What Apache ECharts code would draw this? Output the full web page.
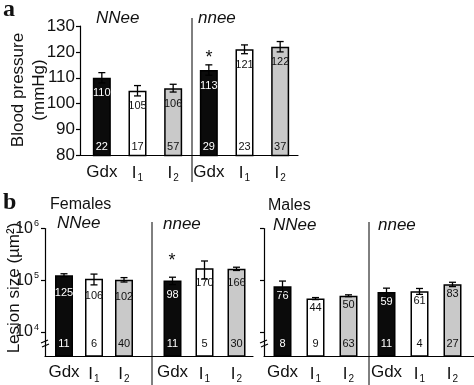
<!DOCTYPE html>
<html><head><meta charset="utf-8">
<script src="https://cdn.jsdelivr.net/npm/echarts@6/dist/echarts.min.js"></script>
<style>html,body{margin:0;padding:0;background:#fff}#c{width:474px;height:385px}</style>
</head><body><div id="c"></div>
<script>
// ---- data ----
const cats = ['Gdx', 'I1', 'I2'];
const bpCats = ['Gdx', 'I1', 'I2', 'Gdx', 'I1', 'I2'];
const bpMean = [110, 105, 106, 113, 121, 122];
const bpErr = [2, 2, 1.5, 2, 1.7, 2];
const bpN = [22, 17, 57, 29, 23, 37];
const bpMin = 80, bpMax = 130, bpStep = 10;

// lesion size, in thousands of µm²
const femNNee = [125, 106, 102], femNNeeErr = [8, 25, 10], femNNeeN = [11, 6, 40];
const femnnee = [98, 170, 166], femnneeErr = [16, 65, 12], femnneeN = [11, 5, 30];
const maleNNee = [76, 44, 50], maleNNeeErr = [20, 2, 2], maleNNeeN = [8, 9, 63];
const malennee = [59, 61, 83], malennneeErr = [11, 8, 8], malennneeN = [11, 4, 27];
const lesionTicks = [1e4, 1e5, 1e6];
const lesionMin = 3400, lesionMax = 1e6;

const fillCols = ['#0b0b0b', '#ffffff', '#c9c9c9'];
const txtCols = ['#ffffff', '#111111', '#111111'];
const FONT = 'Liberation Sans, Arial, Helvetica, sans-serif';

// ---- helpers ----
function catLabel(v) {
  return v === 'Gdx' ? '{m|Gdx}' : '{m|I}{s|' + v.slice(1) + '}';
}
const catRich = {
  m: { fontSize: 17, fontFamily: FONT, color: '#111' },
  s: { fontSize: 10, fontFamily: FONT, color: '#111', padding: [10, 0, 0, 1] }
};

function barData(vals, scale) {
  return vals.map((v, i) => {
    const k = i % 3;
    return {
      value: v * scale,
      itemStyle: { color: fillCols[k], borderColor: '#000', borderWidth: 1.5 },
      label: { color: txtCols[k] }
    };
  });
}

function errRender(params, api) {
  const i = api.value(0), v = api.value(1), e = api.value(2);
  const top = api.coord([i, v + e]);
  const bot = api.coord([i, v - e]);
  const hw = 3.5, st = { stroke: '#000', lineWidth: 1.3 };
  return {
    type: 'group', children: [
      { type: 'line', shape: { x1: top[0], y1: top[1], x2: bot[0], y2: bot[1] }, style: st },
      { type: 'line', shape: { x1: top[0] - hw, y1: top[1], x2: top[0] + hw, y2: top[1] }, style: st },
      { type: 'line', shape: { x1: bot[0] - hw, y1: bot[1], x2: bot[0] + hw, y2: bot[1] }, style: st }
    ]
  };
}

function nRender(minVal, off) {
  return function (params, api) {
    const i = api.value(0), n = api.value(1), k = api.value(2);
    const p = api.coord([i, minVal]);
    return {
      type: 'text', x: p[0], y: p[1] - off,
      style: { text: String(n), fill: txtCols[k], font: '11px ' + FONT, align: 'center', verticalAlign: 'middle' }
    };
  };
}

// ---- grids ----
const grids = [
  { left: 80, width: 218, top: 26, height: 129.5 },   // 0 frame a
  { left: 84, width: 214, top: 26, height: 129.5 },   // 1 bars a
  { left: 45, width: 208, top: 228.5, height: 127.5 }, // 2 frame females
  { left: 264, width: 210, top: 228.5, height: 127.5 },// 3 frame males
  { left: 49, width: 90, top: 228.5, height: 127.5 },  // 4 fem NNee
  { left: 156.5, width: 96, top: 228.5, height: 127.5 },// 5 fem nnee
  { left: 266, width: 99, top: 228.5, height: 127.5 }, // 6 male NNee
  { left: 370, width: 99, top: 228.5, height: 127.5 }  // 7 male nnee
];

const frameX = (g) => ({
  gridIndex: g, type: 'value', min: 0, max: 1,
  axisLine: { show: true, lineStyle: { color: '#000', width: 1.2 } },
  axisTick: { show: false }, axisLabel: { show: false }, splitLine: { show: false }
});
const barX = (g, data) => ({
  gridIndex: g, type: 'category', data: data,
  axisLine: { show: false }, axisTick: { show: false }, splitLine: { show: false },
  axisLabel: { formatter: catLabel, rich: catRich, margin: 8, interval: 0, hideOverlap: false }
});
const logY = (g, showLabels, showAxis) => ({
  gridIndex: g, type: 'log', logBase: 10, min: lesionMin, max: lesionMax,
  show: showAxis,
  axisLine: { show: showAxis, lineStyle: { color: '#000', width: 1.2 } },
  axisTick: { show: showAxis, length: 4, lineStyle: { color: '#000', width: 1.2 }, customValues: lesionTicks },
  axisLabel: {
    show: showLabels, customValues: lesionTicks, margin: 6,
    formatter: v => '{b|10}{e|' + Math.round(Math.log10(v)) + '}',
    rich: {
      b: { fontSize: 16, fontFamily: FONT, color: '#111' },
      e: { fontSize: 9, fontFamily: FONT, color: '#111', padding: [0, 0, 9, 1] }
    }
  },
  splitLine: { show: false }
});

const xAxes = [
  frameX(0),
  barX(1, bpCats),
  frameX(2), frameX(3),
  barX(4, cats), barX(5, cats), barX(6, cats), barX(7, cats)
];
const yAxes = [
  {
    gridIndex: 0, type: 'value', min: bpMin, max: bpMax, interval: bpStep,
    axisLine: { show: true, lineStyle: { color: '#000', width: 1.2 } },
    axisTick: { show: true, length: 4, lineStyle: { color: '#000', width: 1.2 } },
    axisLabel: { fontSize: 17, fontFamily: FONT, color: '#111', margin: 5 },
    splitLine: { show: false }
  },
  { gridIndex: 1, type: 'value', min: bpMin, max: bpMax, show: false, splitLine: { show: false } },
  logY(2, true, true), logY(3, false, true),
  logY(4, false, false), logY(5, false, false), logY(6, false, false), logY(7, false, false)
];

const series = [];
function addGroup(axisIdx, vals, errs, ns, scale, minVal, labelDist, nOff) {
  series.push({
    type: 'bar', xAxisIndex: axisIdx, yAxisIndex: axisIdx, barWidth: 18, clip: true,
    data: barData(vals, scale),
    label: {
      show: true, position: 'insideTop', distance: labelDist, fontSize: 11, fontFamily: FONT,
      formatter: p => String(Math.round(p.value / scale))
    },
    z: 2
  });
  series.push({
    type: 'custom', xAxisIndex: axisIdx, yAxisIndex: axisIdx, renderItem: errRender,
    data: vals.map((v, i) => [i, v * scale, errs[i] * scale]), z: 3, silent: true
  });
  series.push({
    type: 'custom', xAxisIndex: axisIdx, yAxisIndex: axisIdx, renderItem: nRender(minVal, nOff),
    data: ns.map((n, i) => [i, n, i % 3]), z: 4, silent: true
  });
}
addGroup(1, bpMean, bpErr, bpN, 1, bpMin, 10, 9);
addGroup(4, femNNee, femNNeeErr, femNNeeN, 1000, lesionMin, 12, 12);
addGroup(5, femnnee, femnneeErr, femnneeN, 1000, lesionMin, 9, 12);
addGroup(6, maleNNee, maleNNeeErr, maleNNeeN, 1000, lesionMin, 4, 12);
addGroup(7, malennee, malennneeErr, malennneeN, 1000, lesionMin, 4, 12);

function txt(x, y, t, font, extra) {
  return Object.assign({
    type: 'text', x: x, y: y, z: 10,
    style: Object.assign({ text: t, font: font, fill: '#111', verticalAlign: 'middle' }, extra || {})
  });
}
const vline = (x, y1, y2) => ({ type: 'line', z: 10, shape: { x1: x, y1: y1, x2: x, y2: y2 }, style: { stroke: '#000', lineWidth: 1 } });
function brk(x, y) {
  return {
    type: 'group', z: 11, children: [
      { type: 'rect', shape: { x: x - 2, y: y - 2, width: 4, height: 4 }, style: { fill: '#fff' } },
      { type: 'line', shape: { x1: x - 4, y1: y - 1, x2: x + 3, y2: y - 4 }, style: { stroke: '#000', lineWidth: 1.2 } },
      { type: 'line', shape: { x1: x - 3, y1: y + 3, x2: x + 4, y2: y } , style: { stroke: '#000', lineWidth: 1.2 } }
    ]
  };
}

const graphic = [
  txt(3, 10, 'a', 'bold 24px "Liberation Serif", "DejaVu Serif", serif'),
  txt(3, 203, 'b', 'bold 24px "Liberation Serif", "DejaVu Serif", serif'),
  txt(96, 18, 'NNee', 'italic 17px ' + FONT),
  txt(198, 18, 'nnee', 'italic 17px ' + FONT),
  txt(50, 205, 'Females', '16px ' + FONT),
  txt(57, 223, 'NNee', 'italic 17px ' + FONT),
  txt(163, 224, 'nnee', 'italic 17px ' + FONT),
  txt(268, 206, 'Males', '16px ' + FONT),
  txt(273, 225, 'NNee', 'italic 17px ' + FONT),
  txt(378, 225, 'nnee', 'italic 17px ' + FONT),
  txt(209, 58, '*', '18px ' + FONT, { align: 'center' }),
  txt(172, 261, '*', '18px ' + FONT, { align: 'center' }),
  { type: 'text', x: 18, y: 90, rotation: Math.PI / 2, z: 10,
    style: { text: 'Blood pressure', font: '17px ' + FONT, fill: '#111', align: 'center', verticalAlign: 'middle' } },
  { type: 'text', x: 39, y: 90, rotation: Math.PI / 2, z: 10,
    style: { text: '(mmHg)', font: '17px ' + FONT, fill: '#111', align: 'center', verticalAlign: 'middle' } },
  { type: 'text', x: 14, y: 288, rotation: Math.PI / 2, z: 10,
    style: { text: 'Lesion size (µm²)', font: '17px ' + FONT, fill: '#111', align: 'center', verticalAlign: 'middle' } },
  vline(192, 18, 182),
  vline(152, 222, 385),
  vline(369, 222, 385),
  brk(45, 344),
  brk(264, 344)
];

const chart = echarts.init(document.getElementById('c'), null, { renderer: 'canvas' });
chart.setOption({
  animation: false,
  backgroundColor: '#fff',
  grid: grids,
  xAxis: xAxes,
  yAxis: yAxes,
  series: series,
  graphic: graphic
});
</script></body></html>
